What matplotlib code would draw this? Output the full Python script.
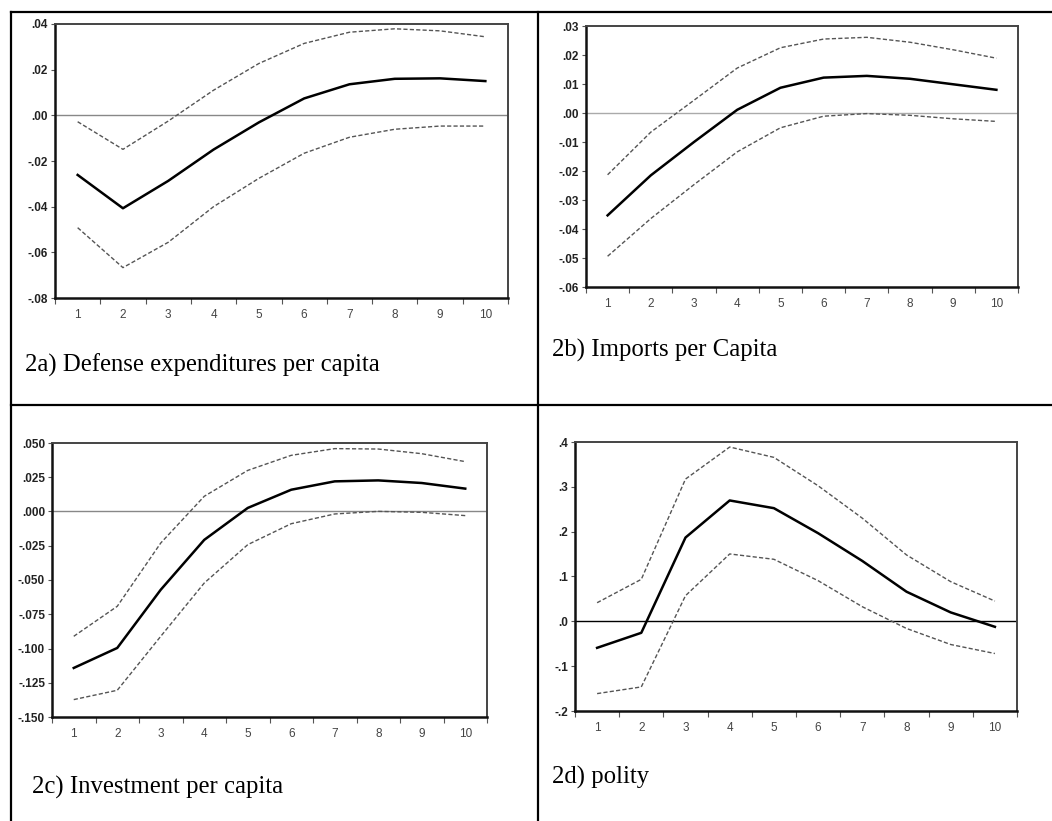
import matplotlib
matplotlib.use("Agg")
import matplotlib.pyplot as plt
from matplotlib.lines import Line2D
from matplotlib.ticker import FixedLocator
import numpy as np

W, H = 1052, 821

# horizon (periods)
periods = np.arange(1, 11)

# 2a) Defense expenditures per capita
defense_resp = [-0.0261, -0.0407, -0.0287, -0.0150, -0.0031, 0.0074, 0.0136, 0.0160, 0.0162, 0.0150]
defense_upper = [-0.0028, -0.0149, -0.0025, 0.0110, 0.0227, 0.0315, 0.0364, 0.0379, 0.0370, 0.0344]
defense_lower = [-0.0492, -0.0667, -0.0556, -0.0400, -0.0276, -0.0166, -0.0096, -0.0061, -0.0047, -0.0047]

# 2b) Imports per Capita
imports_resp = [-0.0353, -0.0215, -0.0100, 0.0011, 0.0087, 0.0122, 0.0128, 0.0118, 0.0099, 0.0080]
imports_upper = [-0.0213, -0.0066, 0.0044, 0.0155, 0.0225, 0.0255, 0.0261, 0.0244, 0.0218, 0.0189]
imports_lower = [-0.0494, -0.0364, -0.0247, -0.0134, -0.0051, -0.0011, -0.0002, -0.0008, -0.0020, -0.0029]

# 2c) Investment per capita
invest_resp = [-0.1142, -0.0996, -0.0571, -0.0207, 0.0026, 0.0159, 0.0220, 0.0227, 0.0208, 0.0167]
invest_upper = [-0.0911, -0.0692, -0.0230, 0.0111, 0.0300, 0.0410, 0.0459, 0.0456, 0.0422, 0.0364]
invest_lower = [-0.1373, -0.1305, -0.0911, -0.0522, -0.0242, -0.0089, -0.0018, 0.0001, -0.0006, -0.0030]

# 2d) polity
polity_resp = [-0.0591, -0.0256, 0.1869, 0.2696, 0.2524, 0.1966, 0.1347, 0.0661, 0.0199, -0.0122]
polity_upper = [0.0415, 0.0937, 0.3173, 0.3888, 0.3657, 0.3024, 0.2301, 0.1481, 0.0885, 0.0452]
polity_lower = [-0.1612, -0.1463, 0.0572, 0.1503, 0.1384, 0.0907, 0.0326, -0.0159, -0.0517, -0.0718]

captions = ["2a) Defense expenditures per capita", "2b) Imports per Capita",
            "2c) Investment per capita", "2d) polity"]

y_ticks_a = [-0.08, -0.06, -0.04, -0.02, 0.00, 0.02, 0.04]
y_labels_a = ['-.08', '-.06', '-.04', '-.02', '.00', '.02', '.04']
y_ticks_b = [-0.06, -0.05, -0.04, -0.03, -0.02, -0.01, 0.00, 0.01, 0.02, 0.03]
y_labels_b = ['-.06', '-.05', '-.04', '-.03', '-.02', '-.01', '.00', '.01', '.02', '.03']
y_ticks_c = [-0.150, -0.125, -0.100, -0.075, -0.050, -0.025, 0.000, 0.025, 0.050]
y_labels_c = ['-.150', '-.125', '-.100', '-.075', '-.050', '-.025', '.000', '.025', '.050']
y_ticks_d = [-0.2, -0.1, 0.0, 0.1, 0.2, 0.3, 0.4]
y_labels_d = ['-.2', '-.1', '.0', '.1', '.2', '.3', '.4']


def px_rect(left, top, right, bottom):
    """Pixel box (from top-left of the picture) -> figure fraction rect."""
    return [left / W, 1 - bottom / H, (right - left) / W, (bottom - top) / H]


def irf_panel(fig, rect, resp, upper, lower, yticks, ylabels, zero_color):
    ax = fig.add_axes(rect)
    ax.axhline(0, color=zero_color, lw=1.0, zorder=1)
    ax.plot(periods, upper, color='#555555', lw=1.0, ls=(0, (3, 1.6)), zorder=2)
    ax.plot(periods, lower, color='#555555', lw=1.0, ls=(0, (3, 1.6)), zorder=2)
    ax.plot(periods, resp, color='black', lw=1.8, zorder=3)

    ax.set_xlim(0.5, 10.5)
    ax.set_ylim(yticks[0], yticks[-1])
    ax.set_yticks(yticks)
    ax.set_yticklabels(ylabels, fontsize=8.5, fontweight='bold', color='#222222',
                       family='Liberation Sans')
    ax.set_xticks(periods)
    ax.set_xticklabels([str(p) for p in periods], fontsize=8.5, color='#444444',
                       family='Liberation Sans')
    ax.xaxis.set_minor_locator(FixedLocator(np.arange(0.5, 11, 1)))
    ax.tick_params(axis='x', which='major', length=0, pad=8)
    ax.tick_params(axis='x', which='minor', length=4, width=0.8, color='#555555',
                   direction='out')
    ax.tick_params(axis='y', length=3, width=0.8, color='#555555', pad=2)

    for side in ('left', 'bottom'):
        ax.spines[side].set_color('#111111')
        ax.spines[side].set_linewidth(1.8)
    for side in ('top', 'right'):
        ax.spines[side].set_color('#444444')
        ax.spines[side].set_linewidth(1.4)
    return ax


fig = plt.figure(figsize=(W / 100, H / 100), dpi=100)

irf_panel(fig, px_rect(55, 24, 508, 298), defense_resp, defense_upper, defense_lower,
          y_ticks_a, y_labels_a, '#888888')
irf_panel(fig, px_rect(586, 26, 1018, 287), imports_resp, imports_upper, imports_lower,
          y_ticks_b, y_labels_b, '#aaaaaa')
irf_panel(fig, px_rect(52, 443, 487, 717), invest_resp, invest_upper, invest_lower,
          y_ticks_c, y_labels_c, '#888888')
irf_panel(fig, px_rect(575, 442, 1017, 711), polity_resp, polity_upper, polity_lower,
          y_ticks_d, y_labels_d, 'black')

# captions below each chart, like the cells of a table
caption_pos = [(25, 365), (552, 350), (32, 787), (552, 777)]
for text, (x, y) in zip(captions, caption_pos):
    fig.text(x / W, 1 - y / H, text, fontsize=17.8, family='Liberation Serif',
             ha='left', va='center')

# table rules
rules = [((11, 12), (1052, 12)),
         ((11, 12), (11, 821)),
         ((538, 12), (538, 821)),
         ((11, 405), (1052, 405))]
for (x0, y0), (x1, y1) in rules:
    fig.add_artist(Line2D([x0 / W, x1 / W], [1 - y0 / H, 1 - y1 / H],
                          transform=fig.transFigure, color='black', lw=1.6))

fig.savefig('out.png', dpi=100)
